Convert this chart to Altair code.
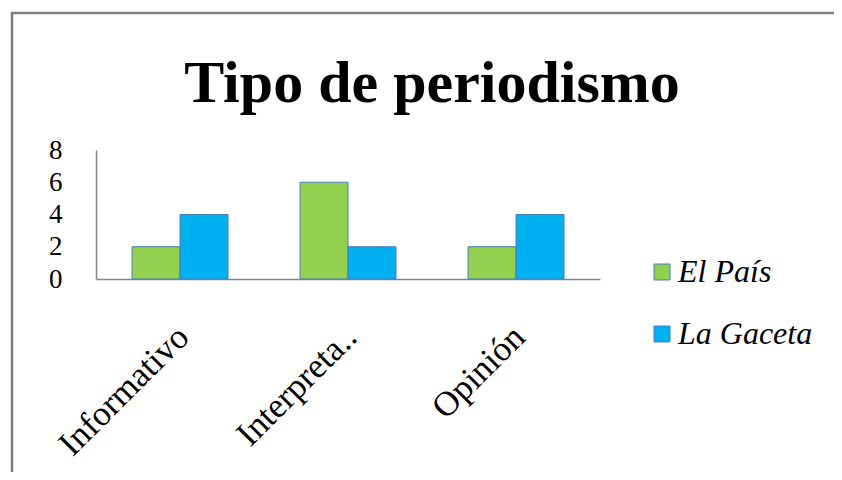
import altair as alt
import pandas as pd

categories = ["Informativo", "Interpreta..", "Opinión"]
series_names = ["El País", "La Gaceta"]
el_pais = [2, 6, 2]
la_gaceta = [4, 2, 4]
y_ticks = [0, 2, 4, 6, 8]
colors = ["#92D050", "#00B0F0"]
title_text = "Tipo de periodismo"

rows = []
for i, c in enumerate(categories):
    rows.append({"Tipo": c, "Periódico": series_names[0], "Valor": el_pais[i]})
    rows.append({"Tipo": c, "Periódico": series_names[1], "Valor": la_gaceta[i]})
df = pd.DataFrame(rows)

SERIF = "Times New Roman, Liberation Serif, DejaVu Serif, serif"

bars = alt.Chart(df).mark_bar(stroke="#4A7EBB", strokeWidth=1).encode(
    x=alt.X("Tipo:N", sort=categories,
            scale=alt.Scale(paddingInner=0, paddingOuter=0),
            axis=alt.Axis(title=None, labelAngle=-45, labelFont=SERIF, labelFontSize=35,
                          labelColor="black", labelPadding=40, labelOffset=-9, ticks=False,
                          domainColor="#868686", domainWidth=1.5)),
    xOffset=alt.XOffset("Periódico:N", sort=series_names,
                        scale=alt.Scale(paddingOuter=0.75, paddingInner=0)),
    y=alt.Y("Valor:Q", scale=alt.Scale(domain=[0, 8], nice=False),
            axis=alt.Axis(title=None, values=y_ticks, grid=False, ticks=False,
                          labelFont=SERIF, labelFontSize=27, labelColor="black",
                          labelPadding=34, domainColor="#868686", domainWidth=1.5)),
    color=alt.Color("Periódico:N", sort=series_names,
                    scale=alt.Scale(domain=series_names, range=colors),
                    legend=alt.Legend(title=None, orient="none", legendX=550, legendY=106,
                                      symbolType="square", symbolSize=256,
                                      symbolStrokeColor="#4A7EBB", symbolStrokeWidth=1,
                                      symbolOpacity=1,
                                      labelFont=SERIF, labelFontStyle="italic",
                                      labelFontSize=32, labelColor="black",
                                      labelOffset=0, rowPadding=30, padding=0)),
)

frame_df = pd.DataFrame({"k": [0]})
border = alt.Chart(frame_df).mark_rect(fill="transparent", stroke="#7F7F7F",
                                       strokeWidth=2.5, clip=False).encode(
    x=alt.value(-84), x2=alt.value(800), y=alt.value(-137), y2=alt.value(400)
)

title_df = pd.DataFrame({"t": [title_text]})
title = alt.Chart(title_df).mark_text(font=SERIF, fontSize=60, fontWeight="bold",
                                      color="black", align="center",
                                      baseline="alphabetic").encode(
    text="t:N", x=alt.value(336), y=alt.value(-48)
)

chart = alt.layer(border, bars, title).properties(
    width=504, height=129,
    padding={"left": 88, "top": 142, "right": 234, "bottom": 193},
    autosize=alt.AutoSizeParams(type="none"),
).configure_view(stroke=None)

chart.save("out.html", embed_options={"renderer": "svg", "actions": False})
